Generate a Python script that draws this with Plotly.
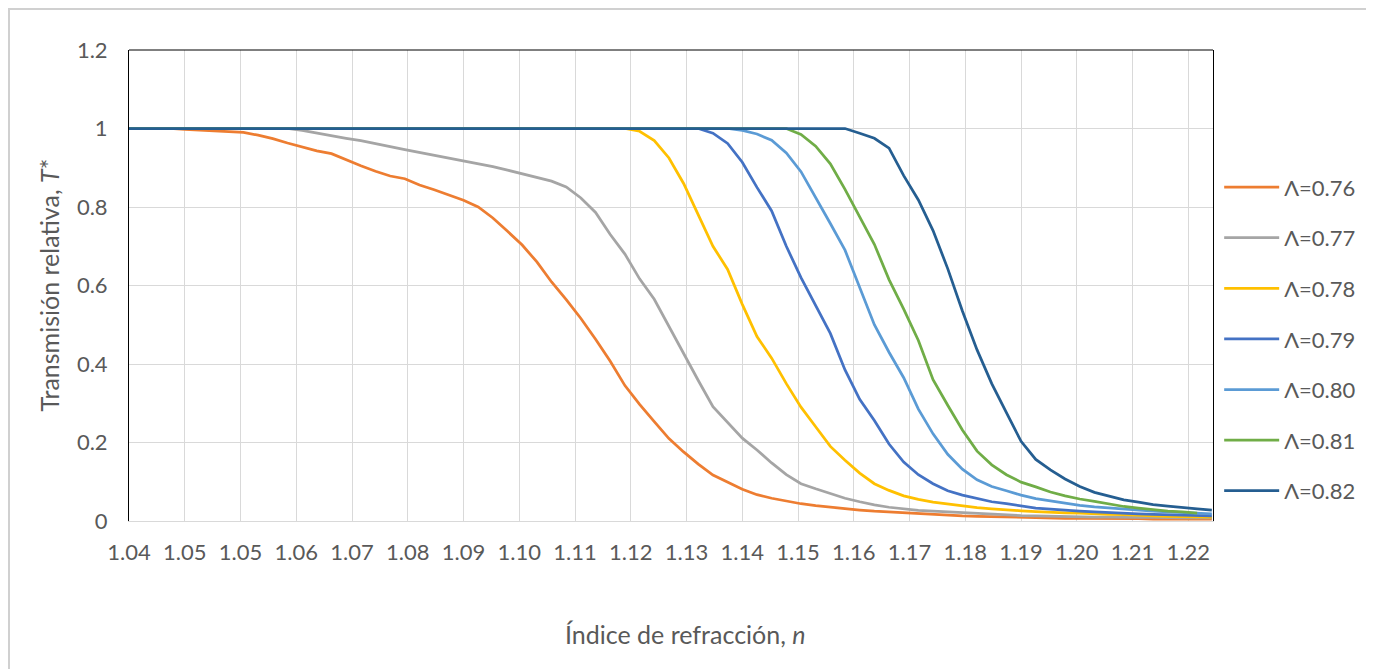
import plotly.graph_objects as go

# refractive index samples (shared by all series)
n_values = [1.0355] + [round(1.04 + 0.0025 * i, 4) for i in range(73)]

t_076 = [1.000, 1.000, 1.000, 0.998, 0.996, 0.994, 0.993, 0.990, 0.983, 0.974,
         0.963, 0.953, 0.943, 0.936, 0.920, 0.905, 0.891, 0.879, 0.872, 0.856,
         0.844, 0.830, 0.817, 0.800, 0.772, 0.738, 0.703, 0.660, 0.609, 0.564,
         0.516, 0.463, 0.407, 0.345, 0.297, 0.253, 0.210, 0.176, 0.145, 0.117,
         0.099, 0.081, 0.067, 0.058, 0.051, 0.044, 0.039, 0.035, 0.031, 0.028,
         0.025, 0.023, 0.020, 0.018, 0.016, 0.014, 0.013, 0.012, 0.011, 0.010,
         0.009, 0.008, 0.008, 0.007, 0.007, 0.007, 0.006, 0.006, 0.006, 0.005,
         0.005, 0.005, 0.005, 0.005]
t_077 = [1.000, 1.000, 1.000, 1.000, 1.000, 1.000, 1.000, 1.000, 1.000, 1.000,
         1.000, 0.995, 0.988, 0.981, 0.975, 0.969, 0.962, 0.954, 0.946, 0.939,
         0.931, 0.924, 0.918, 0.911, 0.903, 0.894, 0.885, 0.876, 0.866, 0.851,
         0.823, 0.786, 0.730, 0.680, 0.617, 0.565, 0.495, 0.425, 0.358, 0.291,
         0.250, 0.211, 0.181, 0.148, 0.118, 0.095, 0.082, 0.070, 0.058, 0.049,
         0.041, 0.035, 0.031, 0.027, 0.025, 0.023, 0.021, 0.019, 0.017, 0.016,
         0.014, 0.013, 0.012, 0.011, 0.011, 0.010, 0.010, 0.009, 0.009, 0.009,
         0.008, 0.008, 0.008, 0.008]
t_078 = [1.000] * 34 + [
         0.993, 0.969, 0.925, 0.860, 0.780, 0.700, 0.641, 0.552, 0.470, 0.415,
         0.350, 0.290, 0.240, 0.190, 0.155, 0.122, 0.095, 0.078, 0.064, 0.055,
         0.048, 0.043, 0.039, 0.034, 0.031, 0.028, 0.026, 0.024, 0.022, 0.021,
         0.020, 0.018, 0.017, 0.016, 0.014, 0.013, 0.012, 0.011, 0.011, 0.010]
t_079 = [1.000] * 39 + [
         0.988, 0.962, 0.914, 0.850, 0.790, 0.700, 0.620, 0.550, 0.478, 0.385,
         0.310, 0.256, 0.196, 0.150, 0.118, 0.095, 0.077, 0.066, 0.057, 0.049,
         0.044, 0.038, 0.033, 0.030, 0.027, 0.025, 0.023, 0.021, 0.020, 0.018,
         0.017, 0.016, 0.015, 0.014, 0.013]
t_080 = [1.000] * 41 + [
         0.995, 0.986, 0.970, 0.938, 0.890, 0.825, 0.758, 0.690, 0.597, 0.500,
         0.430, 0.365, 0.285, 0.222, 0.170, 0.132, 0.105, 0.088, 0.077, 0.066,
         0.057, 0.051, 0.045, 0.040, 0.036, 0.033, 0.030, 0.028, 0.025, 0.023,
         0.021, 0.020, 0.018]
t_081 = [1.000] * 45 + [
         0.985, 0.955, 0.910, 0.845, 0.775, 0.705, 0.615, 0.540, 0.460, 0.360,
         0.295, 0.232, 0.178, 0.143, 0.118, 0.099, 0.087, 0.074, 0.064, 0.056,
         0.050, 0.044, 0.037, 0.033, 0.029, 0.025, 0.023, 0.020]
t_082 = [1.000] * 49 + [
         0.988, 0.975, 0.950, 0.880, 0.818, 0.740, 0.643, 0.535, 0.436, 0.350,
         0.276, 0.203, 0.157, 0.130, 0.107, 0.088, 0.073, 0.064, 0.054, 0.048,
         0.042, 0.038, 0.034, 0.031, 0.028]

series_names = ["Λ=0.76", "Λ=0.77", "Λ=0.78", "Λ=0.79", "Λ=0.80", "Λ=0.81", "Λ=0.82"]
series_values = [t_076, t_077, t_078, t_079, t_080, t_081, t_082]
colors = ["#ED7D31", "#A5A5A5", "#FFC000", "#4472C4", "#5B9BD5", "#70AD47", "#255E91"]

x_tick_labels = ["1.04", "1.05", "1.05", "1.06", "1.07", "1.08", "1.09", "1.10",
                 "1.11", "1.12", "1.13", "1.14", "1.15", "1.16", "1.17", "1.18",
                 "1.19", "1.20", "1.21", "1.22"]
x_tick_vals = [1.0355 + 0.0095 * i for i in range(len(x_tick_labels))]
y_tick_vals = [0, 0.2, 0.4, 0.6, 0.8, 1.0, 1.2]
y_tick_labels = ["0", "0.2", "0.4", "0.6", "0.8", "1", "1.2"]

FONT = "Lato, 'Open Sans', sans-serif"
GREY_TXT = "#595959"
GRID = "#D9D9D9"

fig = go.Figure()
for name, vals, col in zip(series_names, series_values, colors):
    fig.add_trace(go.Scatter(
        x=n_values, y=vals, name=name, mode="lines",
        line=dict(color=col, width=2.75),
        legendgroup=name,
    ))

fig.update_layout(
    width=1366, height=661, autosize=False,
    margin=dict(l=121, r=161, t=42, b=148),
    paper_bgcolor="white", plot_bgcolor="white",
    font=dict(family=FONT, size=22, color=GREY_TXT),
    showlegend=True,
    legend=dict(
        x=1.0057, y=0.753, xanchor="left", yanchor="top",
        font=dict(size=22, color=GREY_TXT),
        tracegroupgap=19, itemwidth=55,
        bgcolor="rgba(0,0,0,0)",
    ),
    xaxis=dict(
        range=[1.0355, 1.2202],
        tickmode="array", tickvals=x_tick_vals, ticktext=x_tick_labels,
        showgrid=True, gridcolor=GRID, gridwidth=1,
        showline=True, linecolor=GRID, linewidth=1,
        zeroline=False, ticks="", ticklabelstandoff=12,
    ),
    yaxis=dict(
        range=[0, 1.2],
        tickmode="array", tickvals=y_tick_vals, ticktext=y_tick_labels,
        showgrid=True, gridcolor=GRID, gridwidth=1,
        showline=True, linecolor="black", linewidth=1, mirror=True,
        zeroline=False, ticks="", ticklabelstandoff=16,
    ),
    annotations=[
        dict(text="Transmisión relativa,\u00a0<i>T</i>*", xref="paper", yref="paper",
             x=-0.0747, y=0.50, xanchor="center", yanchor="middle",
             textangle=-90, showarrow=False,
             font=dict(size=25, color=GREY_TXT)),
        dict(text="Índice de refracción,\u00a0<i>n</i>", xref="paper", yref="paper",
             x=0.513, y=-0.24, xanchor="center", yanchor="middle", showarrow=False,
             font=dict(size=25, color=GREY_TXT)),
    ],
    shapes=[
        # top border of the plot area
        dict(type="line", xref="x domain", yref="y domain", x0=0, x1=1, y0=1, y1=1,
             line=dict(color="black", width=1)),
        # outer chart frame
        dict(type="rect", xref="paper", yref="paper",
             x0=-0.1107, x1=1.143, y0=-0.34, y1=1.087,
             line=dict(color="#D0D0D0", width=2), layer="below"),
    ],
)

fig.write_html("out.html")
